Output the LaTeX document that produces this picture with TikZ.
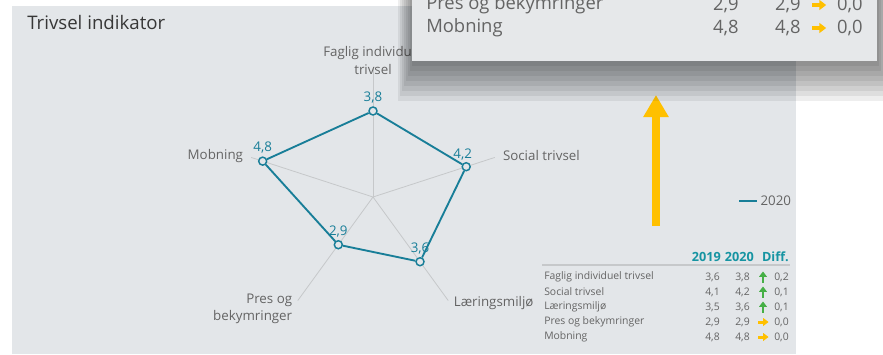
\documentclass[tikz,border=0pt]{standalone}
\usepackage{fontspec}
\setmainfont{Open Sans}
\usepackage{tikz}
\usetikzlibrary{arrows.meta, positioning}

\definecolor{panel}{RGB}{227,230,233}
\definecolor{popfill}{RGB}{230,232,234}
\definecolor{radarteal}{RGB}{24,126,152}
\definecolor{headteal}{RGB}{22,148,162}
\definecolor{axisgrey}{RGB}{198,200,202}
\definecolor{labelgrey}{RGB}{100,100,100}
\definecolor{titlegrey}{RGB}{55,55,55}
\definecolor{gold}{RGB}{255,192,0}
\definecolor{upgreen}{RGB}{70,175,70}

\tikzset{
    arrowup/.pic={
        \fill[upgreen] (-1.4,5.5) rectangle (1.4,-0.5);
        \fill[upgreen] (-4,-0.2) -- (0,-5.5) -- (4,-0.2) -- cycle;
    },
    arrowright/.pic={
        \fill[gold] (-5.5,-1.5) rectangle (0.5,1.5);
        \fill[gold] (0.2,-4) -- (5.5,0) -- (0.2,4) -- cycle;
    }
}

\begin{document}
\begin{tikzpicture}[
        x=0.75pt, y=-0.75pt,
        axis/.style={draw=axisgrey, line width=0.6pt},
        poly/.style={draw=radarteal, line width=1.4pt},
        pt/.style={circle, draw=radarteal, fill=panel, line width=1.1pt, minimum size=6pt, inner sep=0pt},
        val/.style={text=radarteal, inner sep=1pt, font=\fontsize{10}{12}\selectfont},
        lab/.style={text=labelgrey, inner sep=1pt, font=\fontsize{10}{13}\selectfont},
        title/.style={text=titlegrey, inner sep=0pt, font=\fontsize{14}{16}\selectfont},
        row/.style={text=labelgrey, inner sep=0pt, font=\fontsize{7.8}{9}\selectfont},
        head/.style={text=headteal, inner sep=0pt, font=\fontsize{9.5}{11}\selectfont\bfseries},
        pop/.style={text=labelgrey, inner sep=0pt, font=\fontsize{13.8}{15}\selectfont}
    ]
    \clip (0,0) rectangle (883,354);
    \fill[white] (0,0) rectangle (883,354);
    \fill[panel] (12,6) rectangle (796,354);

    % Title
    \node[title, anchor=west] (T) at (27,22) {Trivsel indikator};

    % Radar
    \begin{scope}[shift={(373,197)}, yscale=-1]
        \coordinate (O) at (0,0);
        \coordinate (Fa) at (90:128);
        \coordinate (Sa) at (18:128);
        \coordinate (La) at (-54:128);
        \coordinate (Pa) at (234:128);
        \coordinate (Ma) at (162:128);
        \draw[axis] (O) -- (Fa);
        \draw[axis] (O) -- (Sa);
        \draw[axis] (O) -- (La);
        \draw[axis] (O) -- (Pa);
        \draw[axis] (O) -- (Ma);
        \node[pt] (F) at (90:86) {};
        \node[pt] (S) at (18:98) {};
        \node[pt] (L) at (-54:80) {};
        \node[pt] (P) at (234:59) {};
        \node[pt] (M) at (162:116) {};
    \end{scope}
    \draw[poly] (F) -- (S) -- (L) -- (P) -- (M) -- (F);

    \node[val, above=1pt of F] (Fv) {3,8};
    \node[val, above left=1pt and -8pt of S] (Sv) {4,2};
    \node[val, above=1pt of L] (Lv) {3,6};
    \node[val, above=1pt of P] (Pv) {2,9};
    \node[val, above=1pt of M] (Mv) {4,8};

    \node[lab, align=center, anchor=center] (FaT) at ([yshift=6.5pt]Fa) {Faglig individuel\\trivsel};
    \node[lab, anchor=west] (SaT) at ([xshift=5pt, yshift=1.5pt]Sa) {Social trivsel};
    \node[lab, anchor=west] (LaT) at ([xshift=3pt, yshift=-2pt]La) {Læringsmiljø};
    \node[lab, align=right, anchor=north east] (PaT) at ([xshift=-3pt, yshift=6.5pt]Pa) {Pres og\\bekymringer};
    \node[lab, anchor=east] (MaT) at ([xshift=-5pt, yshift=1pt]Ma) {Mobning};

    % Legend
    \node[lab, anchor=west] (leg) at (759,201) {2020};
    \draw[radarteal, line width=2.2pt] ([xshift=-15pt]leg.west) -- ([xshift=-1.5pt]leg.west);

    % Pointer
    \coordinate (pointtail) at (656,226);
    \coordinate (pointtip) at (656,95);
    \draw[gold, line width=6pt, -{Triangle[length=16.5pt, width=18pt]}] (pointtail) -- (pointtip);

    % Table
    \node[head, anchor=east] (h19) at (721,257) {2019};
    \node[head, anchor=east] (h20) at (754,257) {2020};
    \node[head, anchor=east] (hd) at (789,257) {Diff.};
    \draw[axisgrey, line width=0.8pt] (542,265) -- (790,265);

    \node[row, anchor=west] (r1) at (544,277) {Faglig individuel trivsel};
    \node[row, anchor=east] (a1) at (720,277) {3,6};
    \node[row, anchor=east] (b1) at (750,277) {3,8};
    \pic at (763,277) {arrowup};
    \node[row, anchor=east] (d1) at (789,277) {0,2};

    \node[row, anchor=west] (r2) at (544,292) {Social trivsel};
    \node[row, anchor=east] (a2) at (720,292) {4,1};
    \node[row, anchor=east] (b2) at (750,292) {4,2};
    \pic at (763,292) {arrowup};
    \node[row, anchor=east] (d2) at (789,292) {0,1};

    \node[row, anchor=west] (r3) at (544,307) {Læringsmiljø};
    \node[row, anchor=east] (a3) at (720,307) {3,5};
    \node[row, anchor=east] (b3) at (750,307) {3,6};
    \pic at (763,307) {arrowup};
    \node[row, anchor=east] (d3) at (789,307) {0,1};

    \node[row, anchor=west] (r4) at (544,322) {Pres og bekymringer};
    \node[row, anchor=east] (a4) at (720,322) {2,9};
    \node[row, anchor=east] (b4) at (750,322) {2,9};
    \pic at (763,322) {arrowright};
    \node[row, anchor=east] (d4) at (789,322) {0,0};

    \node[row, anchor=west] (r5) at (544,337) {Mobning};
    \node[row, anchor=east] (a5) at (720,337) {4,8};
    \node[row, anchor=east] (b5) at (750,337) {4,8};
    \pic at (763,337) {arrowright};
    \node[row, anchor=east] (d5) at (789,337) {0,0};

    % Popup with shadow
    \foreach \i in {1,...,8}
        \fill[black, opacity=0.065] (414-2*\i,0) rectangle (877+2*\i,61+5*\i);
    \fill[popfill] (412,-2) rectangle (877,61);

    \node[pop, anchor=west] (pp) at (426,5) {Pres og bekymringer};
    \node[pop, anchor=east] (pp19) at (739,5) {2,9};
    \node[pop, anchor=east] (pp20) at (801,5) {2,9};
    \pic[scale=1.3] at (819,5) {arrowright};
    \node[pop, anchor=east] (ppd) at (863,5) {0,0};

    \node[pop, anchor=west] (pm) at (426,28) {Mobning};
    \node[pop, anchor=east] (pm19) at (739,28) {4,8};
    \node[pop, anchor=east] (pm20) at (801,28) {4,8};
    \pic[scale=1.3] at (819,28) {arrowright};
    \node[pop, anchor=east] (pmd) at (863,28) {0,0};

\end{tikzpicture}
\end{document}
